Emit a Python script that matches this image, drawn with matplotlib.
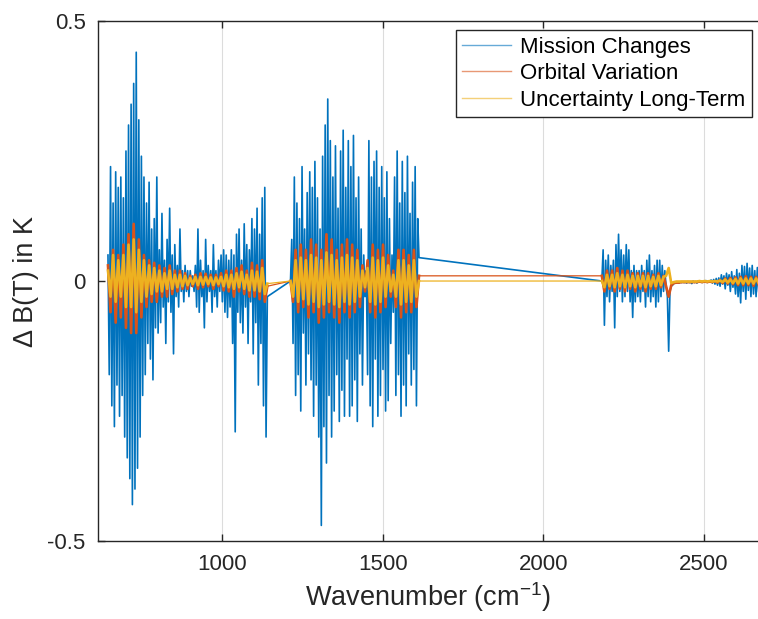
import numpy as np
import matplotlib
matplotlib.use("Agg")
import matplotlib.pyplot as plt

plt.rcParams['font.family'] = ['Liberation Sans', 'DejaVu Sans']
plt.rcParams['mathtext.fontset'] = 'custom'
plt.rcParams['mathtext.rm'] = 'Liberation Sans'
plt.rcParams['mathtext.default'] = 'regular'
plt.rcParams['axes.unicode_minus'] = False

# spectral bands kept after channel selection (start, stop in cm-1)
band_starts = [645, 1213, 2182]
band_stops = [1141, 1613, 2670]
blue_step = 4
orbit_step = 8

# Mission Changes, one value every 4 cm-1 in each band
mission_b1 = [0.05, -0.18, 0.22, -0.24, 0.15, -0.28, 0.21, -0.2, 0.18, -0.26, 0.2, -0.22,
              0.16, -0.3, 0.25, -0.34, 0.3, -0.38, 0.34, -0.43, 0.38, -0.4, 0.44, -0.36, 0.31,
              -0.3, 0.24, -0.22, 0.2,
              -0.18, 0.15, -0.12, 0.19, -0.15, 0.1, -0.19, 0.12, -0.09, 0.2,
              -0.1, 0.06, -0.08, 0.13, -0.05, 0.04, -0.12, 0.08, -0.04, 0.14, -0.06, 0.05,
              -0.14, 0.07, -0.03, 0.03, -0.05, 0.1, -0.02, 0.02, -0.04, 0.03, -0.02, 0.02, -0.03,
              0.02, -0.01, 0.01, -0.02, 0.03, -0.05, 0.1, -0.06, 0.04, -0.03, 0.02, -0.09,
              0.08, -0.04, 0.03, -0.02, 0.02, -0.06, 0.07, -0.03, 0.02, -0.05, 0.04, -0.02,
              0.05, -0.04, 0.06, -0.06, 0.05, -0.07, 0.04, -0.05,
              0.06, -0.12, 0.05, -0.29, 0.09, -0.06, 0.1, -0.08, 0.04, -0.1, 0.11, -0.05,
              0.07, -0.12, 0.06, -0.04, 0.12, -0.14, 0.1, -0.08, 0.14, -0.2, 0.09, -0.12,
              0.16, -0.24, 0.18, -0.3, -0.03]
mission_b2 = [0.0, 0.08, -0.12, 0.2, -0.22, 0.15, -0.18, 0.12, -0.25, 0.22, -0.1, 0.1,
              -0.2, 0.17, -0.14, 0.21, -0.19,
              0.18, -0.26, 0.23, -0.2, 0.16, -0.3, 0.1, -0.47, 0.24, -0.28, 0.3, -0.35,
              0.35, -0.22, 0.27, -0.3, 0.2,
              -0.25, 0.26, -0.18, 0.14, -0.27, 0.25, -0.21, 0.29, -0.26, 0.18, -0.15, 0.27,
              -0.26, 0.22, -0.24, 0.28, -0.19, 0.16, -0.27, 0.2, -0.14, 0.1, -0.2, 0.05, -0.03,
              0.02, -0.18, 0.27, -0.24, 0.2, -0.28, 0.23, -0.15, 0.25, -0.26, 0.18, -0.22,
              0.22, -0.17, 0.16, -0.25, 0.21, -0.23, 0.12, -0.12, 0.05,
              -0.06, 0.2, -0.22, 0.25, -0.18, 0.15, -0.26, 0.23, -0.2, 0.17, -0.24, 0.24,
              -0.14, 0.13, -0.2, 0.19, -0.17, 0.22, -0.24, 0.12, 0.045]
mission_b3 = [0.0, 0.06, -0.085, 0.04, -0.03, 0.05, -0.04, 0.03, -0.02, 0.04, -0.09, 0.07,
              -0.03, 0.09, -0.02, 0.06, -0.04, 0.05, -0.03, 0.07, -0.02, 0.06, -0.04, 0.02,
              -0.07, 0.03, -0.04, 0.02, -0.03, 0.02,
              -0.04, 0.03, -0.02, 0.02, -0.05, 0.04, -0.03, 0.05, -0.04, 0.02, -0.03, 0.03,
              -0.05, 0.04, -0.04, 0.04, -0.03, 0.03, -0.02, 0.02, -0.01, -0.03,
              -0.135, -0.02, -0.01,
              -0.008, -0.005, -0.004, -0.004, -0.003, -0.004, -0.002, -0.003, -0.002, -0.003,
              -0.002, -0.004, -0.001, -0.003, -0.002, -0.005, 0.0, -0.003, -0.001, -0.004,
              0.0, -0.002, -0.001, -0.003, 0.0, -0.002, 0.001, -0.003, 0.0, -0.002, 0.002,
              -0.004, 0.003, -0.006, 0.005, -0.008, 0.006,
              -0.01, 0.012, -0.006, 0.01, -0.015, 0.015, -0.008, 0.012, -0.02, 0.018, -0.012,
              0.01, -0.025, 0.022, -0.03, 0.015, -0.042, 0.03, -0.02, 0.028, -0.035, 0.034,
              -0.018, 0.025, -0.03, 0.03, -0.025, 0.02, -0.03, 0.026, -0.02]

# Orbital Variation, one value every 8 cm-1
orbital_b1 = [0.03, -0.06, 0.06, -0.08, 0.05, -0.07, 0.07, -0.09, 0.09, -0.1, 0.11, -0.1,
              0.08, -0.07, 0.05, -0.05, 0.04, -0.04, 0.035, -0.04, 0.03, -0.03, 0.025, -0.03,
              0.03, -0.025, 0.02, -0.02, 0.02, -0.015, 0.015, -0.015, 0.01, -0.01, 0.012,
              -0.015, 0.015, -0.012, 0.014, -0.01, 0.012, -0.015, 0.012, -0.01, 0.015, -0.018,
              0.02, -0.02, 0.02, -0.03, 0.025, -0.02, 0.03, -0.025, 0.02, -0.03, 0.035, -0.03,
              0.03, -0.035, 0.04, -0.04, -0.01]
orbital_b2 = [0.0, -0.04, 0.06, -0.06, 0.07, -0.05, 0.06, -0.07, 0.08, -0.06, 0.07, -0.08,
              0.06, -0.07, 0.09, -0.06, 0.08, -0.07, 0.06, -0.08, 0.07, -0.06, 0.08, -0.07,
              0.07, -0.06, 0.06, -0.05, 0.03, -0.02, 0.04, -0.06, 0.07, -0.07, 0.06, -0.06,
              0.07, -0.05, 0.05, -0.03, 0.02, -0.05, 0.06, -0.07, 0.06, -0.06, 0.05, -0.06,
              0.06, -0.05, 0.01]
orbital_b3 = [0.01, -0.02, 0.02, -0.015, 0.02, -0.02, 0.025, -0.015, 0.02, -0.02, 0.02,
              -0.015, 0.015, -0.02, 0.015, -0.015, 0.015, -0.02, 0.015, -0.015, 0.012, -0.015,
              0.015, -0.012, 0.01, -0.01, -0.03, -0.008, -0.004, -0.003, -0.003, -0.002,
              -0.002, -0.002, -0.002, -0.002, -0.002, -0.002, -0.001, -0.002, -0.001, -0.002,
              -0.001, -0.002, 0.0, -0.003, 0.002, -0.004, 0.005, -0.005, 0.006, -0.006, 0.007,
              -0.008, 0.008, -0.008, 0.009, -0.008, 0.008, -0.009, 0.008, -0.007]

# Uncertainty Long-Term, one value every 8 cm-1
uncert_b1 = [0.02, -0.03, 0.05, -0.04, 0.04, -0.03, 0.05, -0.05, 0.07, -0.05, 0.08, -0.06,
             0.06, -0.04, 0.04, -0.03, 0.03, -0.025, 0.025, -0.02, 0.02, -0.02, 0.015, -0.015,
             0.02, -0.015, 0.012, -0.012, 0.012, -0.01, 0.01, -0.008, 0.006, -0.006, 0.008,
             -0.008, 0.008, -0.007, 0.008, -0.006, 0.007, -0.008, 0.007, -0.006, 0.008, -0.01,
             0.012, -0.012, 0.012, -0.015, 0.015, -0.012, 0.018, -0.015, 0.012, -0.018, 0.02,
             -0.018, 0.018, -0.02, 0.025, -0.025, -0.005]
uncert_b2 = [0.0, -0.03, 0.04, -0.04, 0.045, -0.035, 0.04, -0.045, 0.05, -0.04, 0.045, -0.05,
             0.04, -0.045, 0.055, -0.04, 0.05, -0.045, 0.04, -0.05, 0.045, -0.04, 0.05, -0.045,
             0.045, -0.04, 0.04, -0.03, 0.02, -0.012, 0.025, -0.04, 0.045, -0.045, 0.04, -0.04,
             0.045, -0.03, 0.03, -0.02, 0.012, -0.03, 0.04, -0.045, 0.04, -0.04, 0.03, -0.04,
             0.04, -0.03, 0.0]
uncert_b3 = [0.0, -0.012, 0.012, -0.01, 0.012, -0.012, 0.015, -0.01, 0.012, -0.012, 0.012,
             -0.01, 0.01, -0.012, 0.01, -0.01, 0.01, -0.012, 0.01, -0.01, 0.008, -0.01, 0.01,
             -0.008, 0.008, 0.01, 0.025, -0.004, -0.002, -0.001, -0.001, -0.001, -0.001,
             -0.001, -0.001, -0.001, -0.001, -0.001, 0.0, -0.001, 0.0, -0.001, 0.0, -0.001,
             0.0, -0.001, 0.001, -0.002, 0.003, -0.003, 0.003, -0.004, 0.004, -0.005, 0.005,
             -0.005, 0.005, -0.005, 0.005, -0.005, 0.005, -0.004]

labels = ['Mission Changes', 'Orbital Variation', 'Uncertainty Long-Term']
colors = ['#0072BD', '#D95319', '#EDB120']


def band_axis(step):
    return np.concatenate([np.arange(a, b + 1, step) for a, b in zip(band_starts, band_stops)])


wn_blue = band_axis(blue_step)
wn_orbit = band_axis(orbit_step)
mission = np.array(mission_b1 + mission_b2 + mission_b3)
orbital = np.array(orbital_b1 + orbital_b2 + orbital_b3)
uncert = np.array(uncert_b1 + uncert_b2 + uncert_b3)

fig = plt.figure(figsize=(7.58, 6.19), dpi=100)
ax = fig.add_axes([0.1293, 0.126, 0.8707, 0.84])

ax.plot(wn_blue, mission, color=colors[0], lw=1.2, label=labels[0])

# thin full lines (they also bridge the removed channels), thick inside each band
ax.plot(wn_orbit, orbital, color=colors[1], lw=0.9, label=labels[1])
ax.plot(wn_orbit, uncert, color=colors[2], lw=0.9, label=labels[2])
orbit_bands = [orbital_b1, orbital_b2, orbital_b3]
uncert_bands = [uncert_b1, uncert_b2, uncert_b3]
for i in range(3):
    wn = np.arange(band_starts[i], band_stops[i] + 1, orbit_step)
    ax.plot(wn, orbit_bands[i], color=colors[1], lw=1.9, zorder=2.1)
for i in range(3):
    wn = np.arange(band_starts[i], band_stops[i] + 1, orbit_step)
    ax.plot(wn, uncert_bands[i], color=colors[2], lw=1.9, zorder=2.2)

ax.set_xlim(614, 2668)
ax.set_ylim(-0.5, 0.5)
ax.set_xticks([1000, 1500, 2000, 2500])
ax.set_yticks([-0.5, 0, 0.5])
ax.set_yticklabels(['-0.5', '0', '0.5'])
ax.grid(axis='x', color='#dcdcdc', lw=0.8)
ax.set_axisbelow(True)

dark = '#262626'
for side in ['left', 'bottom', 'top']:
    ax.spines[side].set_color(dark)
    ax.spines[side].set_linewidth(1.0)
ax.spines['right'].set_visible(False)
ax.tick_params(axis='both', direction='in', length=5, width=1, colors=dark,
               labelsize=16, top=True, pad=9)

ax.set_xlabel('Wavenumber (cm$^{-1}$)', fontsize=19.5, color=dark, labelpad=4)
ax.set_ylabel('Δ B(T) in K', fontsize=19.5, color=dark, labelpad=6)

leg = ax.legend(loc='upper right', bbox_to_anchor=(0.991, 0.983), borderaxespad=0,
                fontsize=16, fancybox=False, framealpha=1, edgecolor=dark,
                handlelength=2.2, handletextpad=0.4, labelspacing=0.25, borderpad=0.3)
leg.get_frame().set_linewidth(1.0)
for line in leg.get_lines():
    line.set_linewidth(1.0)
    line.set_alpha(0.6)

fig.savefig('out.png', dpi=100)
